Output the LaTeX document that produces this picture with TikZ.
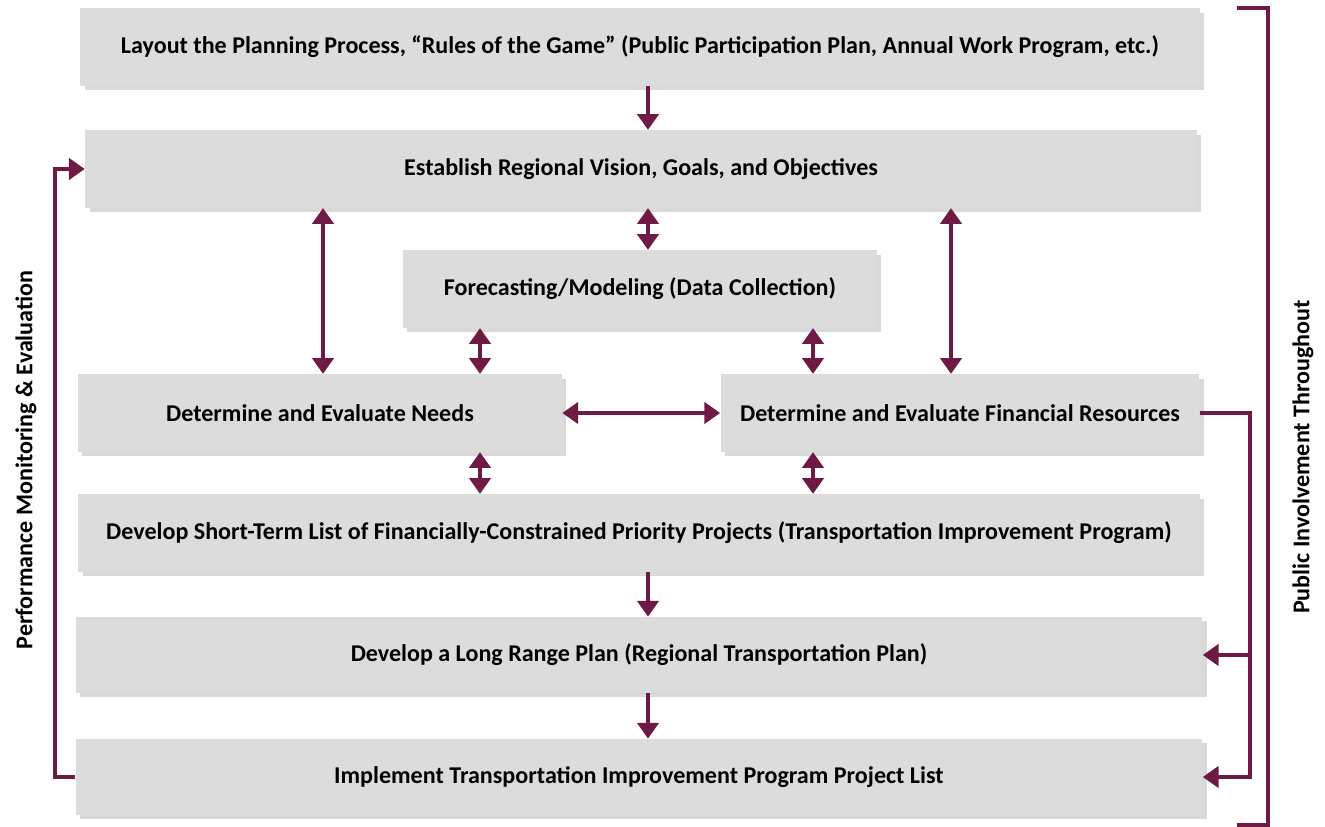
\documentclass[tikz,border=0pt]{standalone}
\usepackage{fontspec}
\setmainfont{Carlito}
\usetikzlibrary{arrows.meta, shadows}
\definecolor{maroon}{HTML}{6E1A45}
\definecolor{boxgray}{HTML}{DCDCDC}
\tikzstyle{stage} = [rectangle, minimum height=1.55cm, text centered, fill=boxgray, inner sep=0pt, drop shadow={shadow xshift=2.5pt, shadow yshift=-2.5pt, opacity=0.3}, font=\bfseries\fontsize{13.7}{16}\selectfont]
\tikzstyle{arrow} = [line width=2.3pt, draw=maroon, -{Triangle[width=12pt, length=9pt]}]
\tikzstyle{twoway} = [line width=2.3pt, draw=maroon, {Triangle[width=12pt, length=9pt]}-{Triangle[width=12pt, length=9pt]}]
\tikzstyle{line} = [line width=2.3pt, draw=maroon]
\tikzstyle{sidelabel} = [rotate=90, font=\bfseries\fontsize{13.7}{16}\selectfont]

\begin{document}
\begin{tikzpicture}[x=0.02cm, y=-0.02cm]
\useasboundingbox (0,0) rectangle (1325,827);

\node (layout) [stage, minimum width=22.4cm] at (640,47) {Layout the Planning Process, “Rules of the Game” (Public Participation Plan, Annual Work Program, etc.)};
\node (vision) [stage, minimum width=22.24cm] at (641,169) {Establish Regional Vision, Goals, and Objectives};
\node (forecast) [stage, minimum width=9.48cm] at (640,289) {Forecasting/Modeling (Data Collection)};
\node (needs) [stage, minimum width=9.68cm] at (320,413) {Determine and Evaluate Needs};
\node (finance) [stage, minimum width=9.58cm] at (960,413) {Determine and Evaluate Financial Resources};
\node (shortlist) [stage, minimum width=22.44cm] at (639,533) {Develop Short-Term List of Financially-Constrained Priority Projects (Transportation Improvement Program)};
\node (longplan) [stage, minimum width=22.54cm, minimum height=1.52cm] at (639,655) {Develop a Long Range Plan (Regional Transportation Plan)};
\node (implement) [stage, minimum width=22.54cm, minimum height=1.52cm] at (639,777) {Implement Transportation Improvement Program Project List};

\node (perf) [sidelabel] at (26,460) {Performance Monitoring \& Evaluation};
\node (public) [sidelabel] at (1303,457) {Public Involvement Throughout};

% columns for the vertical connectors
\coordinate (mid) at (648,0);
\coordinate (colA) at (323,0);
\coordinate (colB) at (480,0);
\coordinate (colC) at (813,0);
\coordinate (colD) at (951,0);
\coordinate (fbL) at (55,0);
\coordinate (fbR) at (1250,0);

\draw [arrow] (layout.south -| mid) -- (vision.north -| mid);
\draw [twoway] (vision.south -| mid) -- (forecast.north -| mid);
\draw [twoway] (vision.south -| colA) -- (needs.north -| colA);
\draw [twoway] (vision.south -| colD) -- (finance.north -| colD);
\draw [twoway] (forecast.south -| colB) -- (needs.north -| colB);
\draw [twoway] (forecast.south -| colC) -- (finance.north -| colC);
\draw [twoway] (needs.east) -- (finance.west);
\draw [twoway] (needs.south -| colB) -- (shortlist.north -| colB);
\draw [twoway] (finance.south -| colC) -- (shortlist.north -| colC);
\draw [arrow] (shortlist.south -| mid) -- (longplan.north -| mid);
\draw [arrow] (longplan.south -| mid) -- (implement.north -| mid);

% feedback loops
\draw [arrow] (implement.west) -- (implement.west -| fbL) |- (vision.west);
\draw [arrow] (finance.east) -| (fbR |- implement.east) -- (implement.east);
\draw [arrow] (fbR |- longplan.east) -- (longplan.east);

% bracket
\draw [line] (1237,8) -- (1268,8) -- (1268,825) -- (1237,825);

\end{tikzpicture}
\end{document}
